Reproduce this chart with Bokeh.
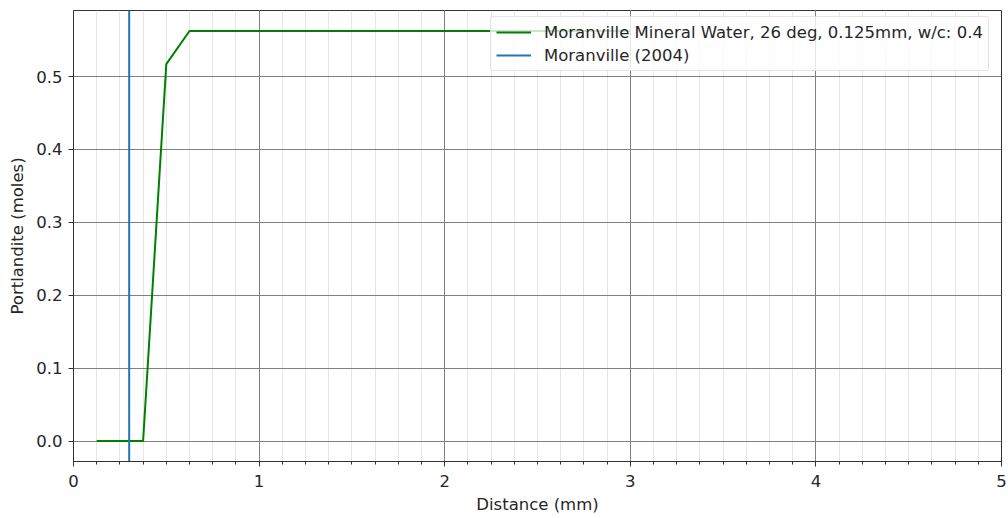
from bokeh.plotting import figure
from bokeh.models import (Range1d, SingleIntervalTicker, PrintfTickFormatter,
                          Legend, LegendItem)
from bokeh.embed import file_html
from bokeh.resources import INLINE

# Portlandite profile vs. distance from the exposed surface
distance_mm = [0.125, 0.25, 0.375, 0.5, 0.625, 0.75, 0.875, 1.0,
               1.125, 1.25, 1.375, 1.5, 1.625, 1.75, 1.875, 2.0,
               2.125, 2.25, 2.375, 2.5, 2.625, 2.75, 2.875, 3.0]
portlandite_moles = [0.0, 0.0, 0.0, 0.517, 0.5625, 0.5625, 0.5625, 0.5625,
                     0.5625, 0.5625, 0.5625, 0.5625, 0.5625, 0.5625, 0.5625, 0.5625,
                     0.5625, 0.5625, 0.5625, 0.5625, 0.5625, 0.5625, 0.5625, 0.5625]

# Measured dissolution front depth, Moranville (2004)
moranville_2004_front_mm = 0.3

series_label = "Moranville Mineral Water, 26 deg, 0.125mm, w/c: 0.4"
reference_label = "Moranville (2004)"

FONT = "DejaVu Sans"
FS = "16.5px"
TXT = "#262626"

y_range = Range1d(-0.028125, 0.590625)
p = figure(frame_width=928, frame_height=451,
           min_border_left=73, min_border_right=7,
           min_border_top=10, min_border_bottom=57,
           x_range=Range1d(0, 5), y_range=y_range,
           output_backend="svg", toolbar_location=None,
           background_fill_color="white", border_fill_color="white")

p.outline_line_color = "#333333"
p.outline_line_width = 1

# axes
p.xaxis.ticker = SingleIntervalTicker(interval=1, num_minor_ticks=8)
p.yaxis.ticker = SingleIntervalTicker(interval=0.1, num_minor_ticks=0)
p.xaxis.formatter = PrintfTickFormatter(format="%d")
p.yaxis.formatter = PrintfTickFormatter(format="%.1f")
p.xaxis.axis_label = "Distance (mm)"
p.yaxis.axis_label = "Portlandite (moles)"
for ax in (p.xaxis, p.yaxis):
    ax.axis_line_color = "#333333"
    ax.major_tick_line_color = "#333333"
    ax.minor_tick_line_color = "#333333"
    ax.major_tick_out = 5
    ax.major_tick_in = 0
    ax.minor_tick_out = 3
    ax.minor_tick_in = 0
    ax.major_label_text_font = FONT
    ax.major_label_text_font_size = FS
    ax.major_label_text_color = TXT
    ax.axis_label_text_font = FONT
    ax.axis_label_text_font_size = FS
    ax.axis_label_text_font_style = "normal"
    ax.axis_label_text_color = TXT
p.xaxis.major_label_standoff = 8
p.yaxis.major_label_standoff = 6
p.xaxis.axis_label_standoff = 5
p.yaxis.axis_label_standoff = 6
p.yaxis.minor_tick_line_color = None

# grid
p.xgrid.grid_line_color = "#808080"
p.ygrid.grid_line_color = "#808080"
p.xgrid.grid_line_width = 1
p.ygrid.grid_line_width = 1
p.xgrid.minor_grid_line_color = "#e6e6e6"
p.xgrid.minor_grid_line_width = 1

# data
r_model = p.line(distance_mm, portlandite_moles, line_color="green", line_width=2)
r_ref = p.line([moranville_2004_front_mm, moranville_2004_front_mm],
               [y_range.start, y_range.end],
               line_color="#1f77b4", line_width=2)

legend = Legend(items=[LegendItem(label=series_label, renderers=[r_model]),
                       LegendItem(label=reference_label, renderers=[r_ref])],
                location=(417, 390), margin=0, padding=5, spacing=3,
                glyph_width=35, glyph_height=20, label_height=20,
                label_standoff=13,
                label_text_font=FONT, label_text_font_size=FS,
                label_text_color=TXT,
                background_fill_color="white", background_fill_alpha=0.8,
                border_line_color="#cccccc", border_line_width=1,
                border_radius=3)
p.add_layout(legend, "center")

open("out.html", "w").write(file_html(p, INLINE))
